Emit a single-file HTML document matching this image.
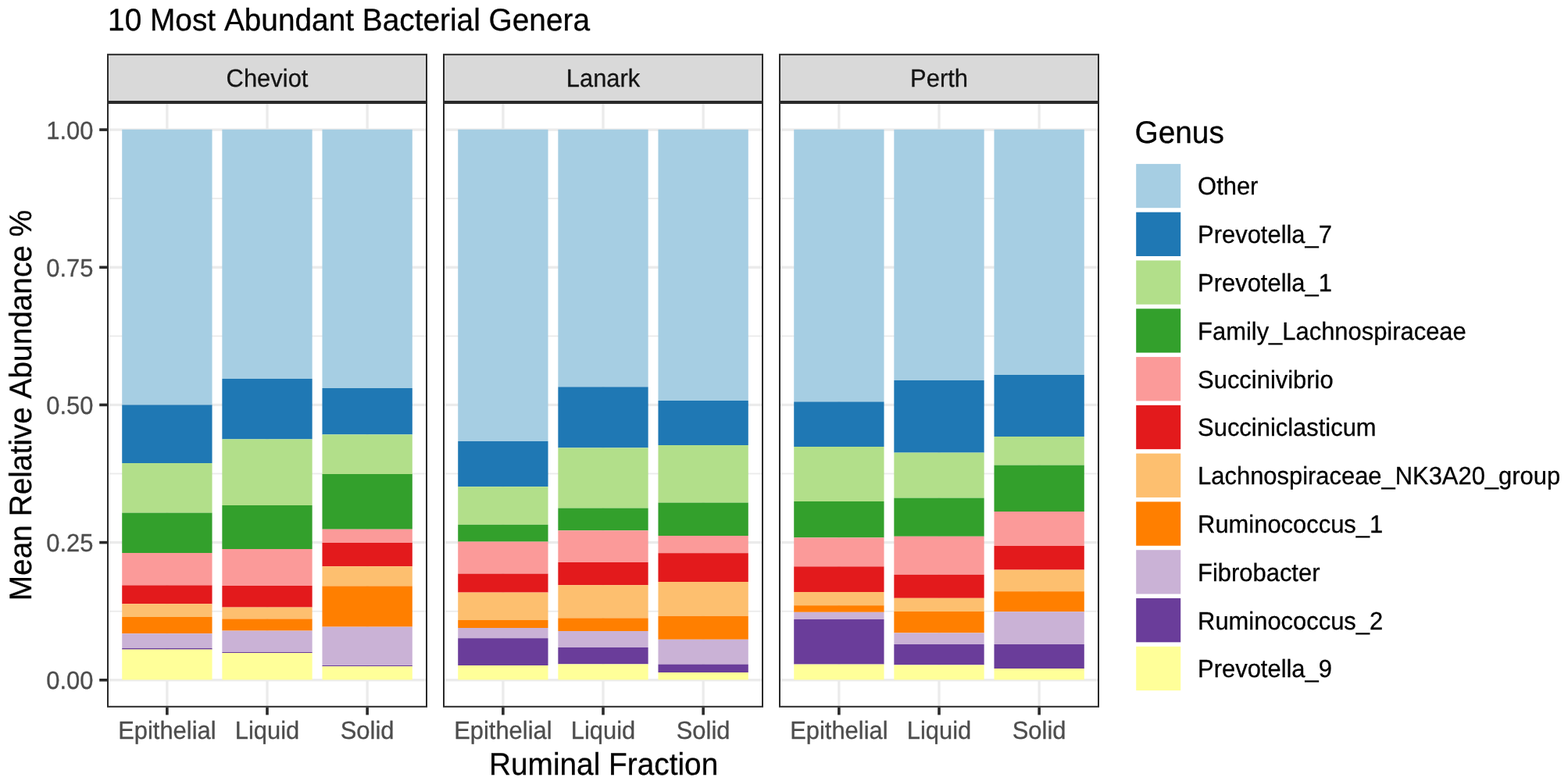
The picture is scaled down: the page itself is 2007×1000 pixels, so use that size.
<!DOCTYPE html>
<html lang="en"><head><meta charset="utf-8"><title>10 Most Abundant Bacterial Genera</title>
<style>html,body{margin:0;padding:0;background:#fff;}body{width:2007px;height:1000px;overflow:hidden;}svg{display:block;}text{font-family:"Liberation Sans",sans-serif;font-kerning:none;font-variant-ligatures:none;text-rendering:geometricPrecision;}</style>
</head><body>
<svg width="2007" height="1000" viewBox="0 0 2007 1000">
<rect x="0" y="0" width="2007" height="1000" fill="#ffffff"/>
<text transform="translate(138.1 39.3) scale(0.97 1)" font-size="40" fill="#000000" stroke="#000000" stroke-width="0.3">10 Most Abundant Bacterial Genera</text>
<g>
<rect x="137" y="131" width="410" height="774.8" fill="#ffffff"/>
<rect x="137" y="781.77" width="410" height="1.8" fill="#ebebeb"/>
<rect x="137" y="605.61" width="410" height="1.8" fill="#ebebeb"/>
<rect x="137" y="429.44" width="410" height="1.8" fill="#ebebeb"/>
<rect x="137" y="253.28" width="410" height="1.8" fill="#ebebeb"/>
<rect x="137" y="869.1" width="410" height="3.3" fill="#ebebeb"/>
<rect x="137" y="692.94" width="410" height="3.3" fill="#ebebeb"/>
<rect x="137" y="516.77" width="410" height="3.3" fill="#ebebeb"/>
<rect x="137" y="340.61" width="410" height="3.3" fill="#ebebeb"/>
<rect x="137" y="164.45" width="410" height="3.3" fill="#ebebeb"/>
<rect x="212.22" y="131" width="3.3" height="774.8" fill="#ebebeb"/>
<rect x="340.35" y="131" width="3.3" height="774.8" fill="#ebebeb"/>
<rect x="468.48" y="131" width="3.3" height="774.8" fill="#ebebeb"/>
<rect x="156.22" y="165.8" width="115.31" height="352.6" fill="#A6CEE3"/>
<rect x="156.22" y="518.4" width="115.31" height="74.6" fill="#1F78B4"/>
<rect x="156.22" y="593" width="115.31" height="63.6" fill="#B2DF8A"/>
<rect x="156.22" y="656.6" width="115.31" height="51.4" fill="#33A02C"/>
<rect x="156.22" y="708" width="115.31" height="41.4" fill="#FB9A99"/>
<rect x="156.22" y="749.4" width="115.31" height="23.8" fill="#E31A1C"/>
<rect x="156.22" y="773.2" width="115.31" height="16.8" fill="#FDBF6F"/>
<rect x="156.22" y="790" width="115.31" height="21.2" fill="#FF7F00"/>
<rect x="156.22" y="811.2" width="115.31" height="18.8" fill="#CAB2D6"/>
<rect x="156.22" y="830" width="115.31" height="1.6" fill="#6A3D9A"/>
<rect x="156.22" y="831.6" width="115.31" height="38.8" fill="#FFFF99"/>
<rect x="284.34" y="165.8" width="115.31" height="319.2" fill="#A6CEE3"/>
<rect x="284.34" y="485" width="115.31" height="77.4" fill="#1F78B4"/>
<rect x="284.34" y="562.4" width="115.31" height="84.6" fill="#B2DF8A"/>
<rect x="284.34" y="647" width="115.31" height="56" fill="#33A02C"/>
<rect x="284.34" y="703" width="115.31" height="47" fill="#FB9A99"/>
<rect x="284.34" y="750" width="115.31" height="27.6" fill="#E31A1C"/>
<rect x="284.34" y="777.6" width="115.31" height="14.8" fill="#FDBF6F"/>
<rect x="284.34" y="792.4" width="115.31" height="15.2" fill="#FF7F00"/>
<rect x="284.34" y="807.6" width="115.31" height="27.4" fill="#CAB2D6"/>
<rect x="284.34" y="835" width="115.31" height="1" fill="#6A3D9A"/>
<rect x="284.34" y="836" width="115.31" height="34.4" fill="#FFFF99"/>
<rect x="412.47" y="165.8" width="115.31" height="331.2" fill="#A6CEE3"/>
<rect x="412.47" y="497" width="115.31" height="59.4" fill="#1F78B4"/>
<rect x="412.47" y="556.4" width="115.31" height="50.6" fill="#B2DF8A"/>
<rect x="412.47" y="607" width="115.31" height="70.7" fill="#33A02C"/>
<rect x="412.47" y="677.7" width="115.31" height="17.3" fill="#FB9A99"/>
<rect x="412.47" y="695" width="115.31" height="30.2" fill="#E31A1C"/>
<rect x="412.47" y="725.2" width="115.31" height="25.2" fill="#FDBF6F"/>
<rect x="412.47" y="750.4" width="115.31" height="52.2" fill="#FF7F00"/>
<rect x="412.47" y="802.6" width="115.31" height="49.4" fill="#CAB2D6"/>
<rect x="412.47" y="852" width="115.31" height="1.2" fill="#6A3D9A"/>
<rect x="412.47" y="853.2" width="115.31" height="17.2" fill="#FFFF99"/>
<rect x="138" y="132" width="408" height="772.8" fill="none" stroke="#2a2a2a" stroke-width="2.0"/>
<rect x="138" y="69.8" width="408" height="60.2" fill="#d9d9d9" stroke="#2a2a2a" stroke-width="2.0"/>
<text transform="translate(342 111.2) scale(0.966 1)" font-size="32" fill="#141414" stroke="#141414" stroke-width="0.3" text-anchor="middle">Cheviot</text>
<rect x="212.07" y="905.8" width="3.6" height="9.6" fill="#2a2a2a"/>
<text transform="translate(213.88 946.4) scale(0.966 1)" font-size="32" fill="#4d4d4d" stroke="#4d4d4d" stroke-width="0.3" text-anchor="middle">Epithelial</text>
<rect x="340.2" y="905.8" width="3.6" height="9.6" fill="#2a2a2a"/>
<text transform="translate(342 946.4) scale(0.966 1)" font-size="32" fill="#4d4d4d" stroke="#4d4d4d" stroke-width="0.3" text-anchor="middle">Liquid</text>
<rect x="468.32" y="905.8" width="3.6" height="9.6" fill="#2a2a2a"/>
<text transform="translate(470.12 946.4) scale(0.966 1)" font-size="32" fill="#4d4d4d" stroke="#4d4d4d" stroke-width="0.3" text-anchor="middle">Solid</text>
</g>
<g>
<rect x="567" y="131" width="410" height="774.8" fill="#ffffff"/>
<rect x="567" y="781.77" width="410" height="1.8" fill="#ebebeb"/>
<rect x="567" y="605.61" width="410" height="1.8" fill="#ebebeb"/>
<rect x="567" y="429.44" width="410" height="1.8" fill="#ebebeb"/>
<rect x="567" y="253.28" width="410" height="1.8" fill="#ebebeb"/>
<rect x="567" y="869.1" width="410" height="3.3" fill="#ebebeb"/>
<rect x="567" y="692.94" width="410" height="3.3" fill="#ebebeb"/>
<rect x="567" y="516.77" width="410" height="3.3" fill="#ebebeb"/>
<rect x="567" y="340.61" width="410" height="3.3" fill="#ebebeb"/>
<rect x="567" y="164.45" width="410" height="3.3" fill="#ebebeb"/>
<rect x="642.23" y="131" width="3.3" height="774.8" fill="#ebebeb"/>
<rect x="770.35" y="131" width="3.3" height="774.8" fill="#ebebeb"/>
<rect x="898.48" y="131" width="3.3" height="774.8" fill="#ebebeb"/>
<rect x="586.22" y="165.8" width="115.31" height="399.2" fill="#A6CEE3"/>
<rect x="586.22" y="565" width="115.31" height="58.2" fill="#1F78B4"/>
<rect x="586.22" y="623.2" width="115.31" height="48.6" fill="#B2DF8A"/>
<rect x="586.22" y="671.8" width="115.31" height="21.8" fill="#33A02C"/>
<rect x="586.22" y="693.6" width="115.31" height="41" fill="#FB9A99"/>
<rect x="586.22" y="734.6" width="115.31" height="24" fill="#E31A1C"/>
<rect x="586.22" y="758.6" width="115.31" height="35.4" fill="#FDBF6F"/>
<rect x="586.22" y="794" width="115.31" height="10" fill="#FF7F00"/>
<rect x="586.22" y="804" width="115.31" height="13.2" fill="#CAB2D6"/>
<rect x="586.22" y="817.2" width="115.31" height="34.8" fill="#6A3D9A"/>
<rect x="586.22" y="852" width="115.31" height="18.4" fill="#FFFF99"/>
<rect x="714.34" y="165.8" width="115.31" height="329.6" fill="#A6CEE3"/>
<rect x="714.34" y="495.4" width="115.31" height="78" fill="#1F78B4"/>
<rect x="714.34" y="573.4" width="115.31" height="77.2" fill="#B2DF8A"/>
<rect x="714.34" y="650.6" width="115.31" height="28.7" fill="#33A02C"/>
<rect x="714.34" y="679.3" width="115.31" height="40.7" fill="#FB9A99"/>
<rect x="714.34" y="720" width="115.31" height="29.2" fill="#E31A1C"/>
<rect x="714.34" y="749.2" width="115.31" height="42.2" fill="#FDBF6F"/>
<rect x="714.34" y="791.4" width="115.31" height="16.6" fill="#FF7F00"/>
<rect x="714.34" y="808" width="115.31" height="21" fill="#CAB2D6"/>
<rect x="714.34" y="829" width="115.31" height="21.4" fill="#6A3D9A"/>
<rect x="714.34" y="850.4" width="115.31" height="20" fill="#FFFF99"/>
<rect x="842.47" y="165.8" width="115.31" height="347.2" fill="#A6CEE3"/>
<rect x="842.47" y="513" width="115.31" height="57" fill="#1F78B4"/>
<rect x="842.47" y="570" width="115.31" height="73.6" fill="#B2DF8A"/>
<rect x="842.47" y="643.6" width="115.31" height="42.4" fill="#33A02C"/>
<rect x="842.47" y="686" width="115.31" height="22.2" fill="#FB9A99"/>
<rect x="842.47" y="708.2" width="115.31" height="36.8" fill="#E31A1C"/>
<rect x="842.47" y="745" width="115.31" height="43.8" fill="#FDBF6F"/>
<rect x="842.47" y="788.8" width="115.31" height="30" fill="#FF7F00"/>
<rect x="842.47" y="818.8" width="115.31" height="31.8" fill="#CAB2D6"/>
<rect x="842.47" y="850.6" width="115.31" height="10.4" fill="#6A3D9A"/>
<rect x="842.47" y="861" width="115.31" height="9.4" fill="#FFFF99"/>
<rect x="568" y="132" width="408" height="772.8" fill="none" stroke="#2a2a2a" stroke-width="2.0"/>
<rect x="568" y="69.8" width="408" height="60.2" fill="#d9d9d9" stroke="#2a2a2a" stroke-width="2.0"/>
<text transform="translate(772 111.2) scale(0.966 1)" font-size="32" fill="#141414" stroke="#141414" stroke-width="0.3" text-anchor="middle">Lanark</text>
<rect x="642.08" y="905.8" width="3.6" height="9.6" fill="#2a2a2a"/>
<text transform="translate(643.88 946.4) scale(0.966 1)" font-size="32" fill="#4d4d4d" stroke="#4d4d4d" stroke-width="0.3" text-anchor="middle">Epithelial</text>
<rect x="770.2" y="905.8" width="3.6" height="9.6" fill="#2a2a2a"/>
<text transform="translate(772 946.4) scale(0.966 1)" font-size="32" fill="#4d4d4d" stroke="#4d4d4d" stroke-width="0.3" text-anchor="middle">Liquid</text>
<rect x="898.33" y="905.8" width="3.6" height="9.6" fill="#2a2a2a"/>
<text transform="translate(900.12 946.4) scale(0.966 1)" font-size="32" fill="#4d4d4d" stroke="#4d4d4d" stroke-width="0.3" text-anchor="middle">Solid</text>
</g>
<g>
<rect x="997" y="131" width="410" height="774.8" fill="#ffffff"/>
<rect x="997" y="781.77" width="410" height="1.8" fill="#ebebeb"/>
<rect x="997" y="605.61" width="410" height="1.8" fill="#ebebeb"/>
<rect x="997" y="429.44" width="410" height="1.8" fill="#ebebeb"/>
<rect x="997" y="253.28" width="410" height="1.8" fill="#ebebeb"/>
<rect x="997" y="869.1" width="410" height="3.3" fill="#ebebeb"/>
<rect x="997" y="692.94" width="410" height="3.3" fill="#ebebeb"/>
<rect x="997" y="516.77" width="410" height="3.3" fill="#ebebeb"/>
<rect x="997" y="340.61" width="410" height="3.3" fill="#ebebeb"/>
<rect x="997" y="164.45" width="410" height="3.3" fill="#ebebeb"/>
<rect x="1072.22" y="131" width="3.3" height="774.8" fill="#ebebeb"/>
<rect x="1200.35" y="131" width="3.3" height="774.8" fill="#ebebeb"/>
<rect x="1328.47" y="131" width="3.3" height="774.8" fill="#ebebeb"/>
<rect x="1016.22" y="165.8" width="115.31" height="348.6" fill="#A6CEE3"/>
<rect x="1016.22" y="514.4" width="115.31" height="57.6" fill="#1F78B4"/>
<rect x="1016.22" y="572" width="115.31" height="70" fill="#B2DF8A"/>
<rect x="1016.22" y="642" width="115.31" height="46.4" fill="#33A02C"/>
<rect x="1016.22" y="688.4" width="115.31" height="37" fill="#FB9A99"/>
<rect x="1016.22" y="725.4" width="115.31" height="32.6" fill="#E31A1C"/>
<rect x="1016.22" y="758" width="115.31" height="17.2" fill="#FDBF6F"/>
<rect x="1016.22" y="775.2" width="115.31" height="8.6" fill="#FF7F00"/>
<rect x="1016.22" y="783.8" width="115.31" height="9.2" fill="#CAB2D6"/>
<rect x="1016.22" y="793" width="115.31" height="57.6" fill="#6A3D9A"/>
<rect x="1016.22" y="850.6" width="115.31" height="19.8" fill="#FFFF99"/>
<rect x="1144.34" y="165.8" width="115.31" height="321.2" fill="#A6CEE3"/>
<rect x="1144.34" y="487" width="115.31" height="92.6" fill="#1F78B4"/>
<rect x="1144.34" y="579.6" width="115.31" height="58" fill="#B2DF8A"/>
<rect x="1144.34" y="637.6" width="115.31" height="49.2" fill="#33A02C"/>
<rect x="1144.34" y="686.8" width="115.31" height="49" fill="#FB9A99"/>
<rect x="1144.34" y="735.8" width="115.31" height="30" fill="#E31A1C"/>
<rect x="1144.34" y="765.8" width="115.31" height="17.2" fill="#FDBF6F"/>
<rect x="1144.34" y="783" width="115.31" height="27.4" fill="#FF7F00"/>
<rect x="1144.34" y="810.4" width="115.31" height="14.6" fill="#CAB2D6"/>
<rect x="1144.34" y="825" width="115.31" height="26.4" fill="#6A3D9A"/>
<rect x="1144.34" y="851.4" width="115.31" height="19" fill="#FFFF99"/>
<rect x="1272.47" y="165.8" width="115.31" height="314.2" fill="#A6CEE3"/>
<rect x="1272.47" y="480" width="115.31" height="79" fill="#1F78B4"/>
<rect x="1272.47" y="559" width="115.31" height="36.6" fill="#B2DF8A"/>
<rect x="1272.47" y="595.6" width="115.31" height="59.4" fill="#33A02C"/>
<rect x="1272.47" y="655" width="115.31" height="44" fill="#FB9A99"/>
<rect x="1272.47" y="699" width="115.31" height="30.6" fill="#E31A1C"/>
<rect x="1272.47" y="729.6" width="115.31" height="27.6" fill="#FDBF6F"/>
<rect x="1272.47" y="757.2" width="115.31" height="26" fill="#FF7F00"/>
<rect x="1272.47" y="783.2" width="115.31" height="41.8" fill="#CAB2D6"/>
<rect x="1272.47" y="825" width="115.31" height="31" fill="#6A3D9A"/>
<rect x="1272.47" y="856" width="115.31" height="14.4" fill="#FFFF99"/>
<rect x="998" y="132" width="408" height="772.8" fill="none" stroke="#2a2a2a" stroke-width="2.0"/>
<rect x="998" y="69.8" width="408" height="60.2" fill="#d9d9d9" stroke="#2a2a2a" stroke-width="2.0"/>
<text transform="translate(1202 111.2) scale(0.966 1)" font-size="32" fill="#141414" stroke="#141414" stroke-width="0.3" text-anchor="middle">Perth</text>
<rect x="1072.08" y="905.8" width="3.6" height="9.6" fill="#2a2a2a"/>
<text transform="translate(1073.88 946.4) scale(0.966 1)" font-size="32" fill="#4d4d4d" stroke="#4d4d4d" stroke-width="0.3" text-anchor="middle">Epithelial</text>
<rect x="1200.2" y="905.8" width="3.6" height="9.6" fill="#2a2a2a"/>
<text transform="translate(1202 946.4) scale(0.966 1)" font-size="32" fill="#4d4d4d" stroke="#4d4d4d" stroke-width="0.3" text-anchor="middle">Liquid</text>
<rect x="1328.33" y="905.8" width="3.6" height="9.6" fill="#2a2a2a"/>
<text transform="translate(1330.12 946.4) scale(0.966 1)" font-size="32" fill="#4d4d4d" stroke="#4d4d4d" stroke-width="0.3" text-anchor="middle">Solid</text>
</g>
<rect x="127.2" y="868.95" width="9.8" height="3.6" fill="#2a2a2a"/>
<text transform="translate(119.5 882.35) scale(0.966 1)" font-size="32" fill="#4d4d4d" stroke="#4d4d4d" stroke-width="0.3" text-anchor="end">0.00</text>
<rect x="127.2" y="692.79" width="9.8" height="3.6" fill="#2a2a2a"/>
<text transform="translate(119.5 706.19) scale(0.966 1)" font-size="32" fill="#4d4d4d" stroke="#4d4d4d" stroke-width="0.3" text-anchor="end">0.25</text>
<rect x="127.2" y="516.62" width="9.8" height="3.6" fill="#2a2a2a"/>
<text transform="translate(119.5 530.02) scale(0.966 1)" font-size="32" fill="#4d4d4d" stroke="#4d4d4d" stroke-width="0.3" text-anchor="end">0.50</text>
<rect x="127.2" y="340.46" width="9.8" height="3.6" fill="#2a2a2a"/>
<text transform="translate(119.5 353.86) scale(0.966 1)" font-size="32" fill="#4d4d4d" stroke="#4d4d4d" stroke-width="0.3" text-anchor="end">0.75</text>
<rect x="127.2" y="164.3" width="9.8" height="3.6" fill="#2a2a2a"/>
<text transform="translate(119.5 177.7) scale(0.966 1)" font-size="32" fill="#4d4d4d" stroke="#4d4d4d" stroke-width="0.3" text-anchor="end">1.00</text>
<text transform="translate(772.6 991.7) scale(0.97 1)" font-size="40" fill="#000000" stroke="#000000" stroke-width="0.3" text-anchor="middle">Ruminal Fraction</text>
<text transform="translate(40.3 519) rotate(-90) scale(0.97 1)" font-size="40" fill="#000000" stroke="#000000" stroke-width="0.3" text-anchor="middle">Mean Relative Abundance %</text>
<text transform="translate(1452.5 182.6) scale(0.97 1)" font-size="40" fill="#000000" stroke="#000000" stroke-width="0.3">Genus</text>
<rect x="1454.2" y="209.9" width="57" height="56.3" fill="#A6CEE3"/>
<text transform="translate(1533.1 249.4) scale(0.966 1)" font-size="32" fill="#000000" stroke="#000000" stroke-width="0.3">Other</text>
<rect x="1454.2" y="271.69" width="57" height="56.3" fill="#1F78B4"/>
<text transform="translate(1533.1 311.19) scale(0.966 1)" font-size="32" fill="#000000" stroke="#000000" stroke-width="0.3">Prevotella_7</text>
<rect x="1454.2" y="333.48" width="57" height="56.3" fill="#B2DF8A"/>
<text transform="translate(1533.1 372.98) scale(0.966 1)" font-size="32" fill="#000000" stroke="#000000" stroke-width="0.3">Prevotella_1</text>
<rect x="1454.2" y="395.27" width="57" height="56.3" fill="#33A02C"/>
<text transform="translate(1533.1 434.77) scale(0.966 1)" font-size="32" fill="#000000" stroke="#000000" stroke-width="0.3">Family_Lachnospiraceae</text>
<rect x="1454.2" y="457.06" width="57" height="56.3" fill="#FB9A99"/>
<text transform="translate(1533.1 496.56) scale(0.966 1)" font-size="32" fill="#000000" stroke="#000000" stroke-width="0.3">Succinivibrio</text>
<rect x="1454.2" y="518.85" width="57" height="56.3" fill="#E31A1C"/>
<text transform="translate(1533.1 558.35) scale(0.966 1)" font-size="32" fill="#000000" stroke="#000000" stroke-width="0.3">Succiniclasticum</text>
<rect x="1454.2" y="580.64" width="57" height="56.3" fill="#FDBF6F"/>
<text transform="translate(1533.1 620.14) scale(0.966 1)" font-size="32" fill="#000000" stroke="#000000" stroke-width="0.3">Lachnospiraceae_NK3A20_group</text>
<rect x="1454.2" y="642.43" width="57" height="56.3" fill="#FF7F00"/>
<text transform="translate(1533.1 681.93) scale(0.966 1)" font-size="32" fill="#000000" stroke="#000000" stroke-width="0.3">Ruminococcus_1</text>
<rect x="1454.2" y="704.22" width="57" height="56.3" fill="#CAB2D6"/>
<text transform="translate(1533.1 743.72) scale(0.966 1)" font-size="32" fill="#000000" stroke="#000000" stroke-width="0.3">Fibrobacter</text>
<rect x="1454.2" y="766.01" width="57" height="56.3" fill="#6A3D9A"/>
<text transform="translate(1533.1 805.51) scale(0.966 1)" font-size="32" fill="#000000" stroke="#000000" stroke-width="0.3">Ruminococcus_2</text>
<rect x="1454.2" y="827.8" width="57" height="56.3" fill="#FFFF99"/>
<text transform="translate(1533.1 867.3) scale(0.966 1)" font-size="32" fill="#000000" stroke="#000000" stroke-width="0.3">Prevotella_9</text>
</svg>
</body></html>
